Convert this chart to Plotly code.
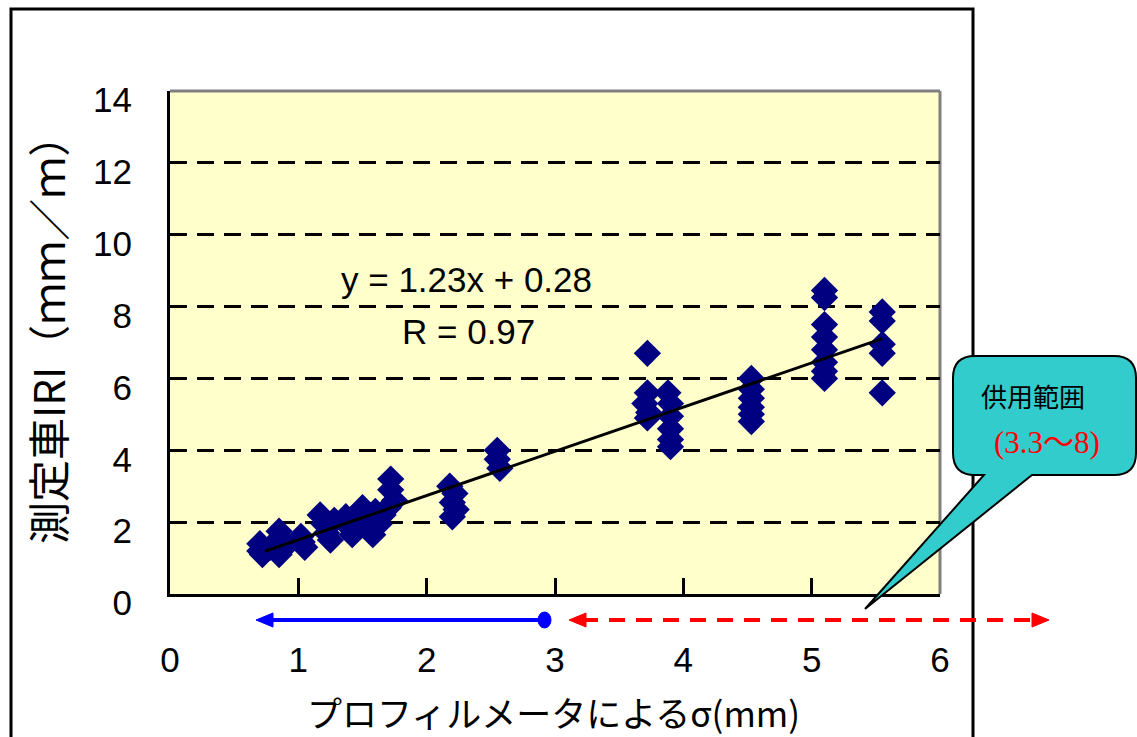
import plotly.graph_objects as go

# ---------------- data ----------------
sigma_x = [0.70, 0.70, 0.72, 0.78, 0.85, 0.87, 0.88, 0.85,
           1.02, 1.03, 1.05,
           1.17, 1.20, 1.22, 1.25, 1.28,
           1.37, 1.40, 1.42,
           1.50, 1.52, 1.55, 1.58, 1.60, 1.63, 1.66,
           1.72, 1.72, 1.75, 1.70,
           2.18, 2.22, 2.20, 2.23, 2.20,
           2.55, 2.55, 2.57,
           3.72, 3.72, 3.70, 3.73, 3.72,
           3.88, 3.90, 3.90, 3.90, 3.90, 3.90,
           4.53, 4.53, 4.53, 4.53, 4.53, 4.53,
           5.10, 5.10, 5.10, 5.10, 5.10, 5.10, 5.10, 5.10,
           5.55, 5.55, 5.55, 5.55, 5.55]
iri_y = [1.40, 1.20, 1.10, 1.30, 1.75, 1.50, 1.25, 1.10,
         1.60, 1.45, 1.30,
         2.20, 1.95, 1.70, 1.50, 2.05,
         2.15, 1.85, 1.65,
         2.40, 2.10, 1.80, 1.65, 2.30, 1.95, 2.20,
         3.20, 2.90, 2.60, 2.40,
         3.00, 2.80, 2.55, 2.35, 2.15,
         4.00, 3.75, 3.50,
         6.70, 5.60, 5.30, 5.05, 4.90,
         5.60, 5.30, 4.95, 4.60, 4.30, 4.10,
         6.00, 5.70, 5.45, 5.20, 5.00, 4.80,
         8.45, 8.25, 7.50, 7.15, 6.80, 6.45, 6.20, 6.00,
         7.85, 7.60, 6.95, 6.70, 5.60]

trend_x = [0.74, 5.55]
trend_y = [1.19, 7.11]

x_ticks = [0, 1, 2, 3, 4, 5, 6]
y_ticks = [0, 2, 4, 6, 8, 10, 12, 14]
grid_y = [2, 4, 6, 8, 10, 12]

eq_text = "y = 1.23x + 0.28"
r_text = "R = 0.97"
x_title = "プロフィルメータによるσ(mm)"
y_title = "測定車IRI（ｍｍ／ｍ）"
callout_title = "供用範囲"
callout_range = "(3.3〜8)"

# ---------------- layout helpers (pixel -> paper) ----------------
FIG_W, FIG_H = 1137, 737
L, R, T, B = 170, 940, 91, 594


def px(v):
    return (v - L) / (R - L)


def py(v):
    return (B - v) / (B - T)


NUM_FONT = "Liberation Sans, Arial, sans-serif"
JP_FONT = "Noto Sans CJK JP, sans-serif"

fig = go.Figure()
fig.add_trace(go.Scatter(
    x=sigma_x, y=iri_y, mode="markers",
    marker=dict(symbol="diamond", size=21, color="#000080", line=dict(width=0)),
    showlegend=False, hoverinfo="skip"))
fig.add_trace(go.Scatter(
    x=trend_x, y=trend_y, mode="lines", yaxis="y2",
    line=dict(color="black", width=3),
    showlegend=False, hoverinfo="skip"))

shapes = []
# gray top / right plot border
shapes.append(dict(type="line", xref="paper", yref="paper", x0=0, x1=1, y0=1, y1=1,
                   line=dict(color="#808080", width=3), layer="below"))
shapes.append(dict(type="line", xref="paper", yref="paper", x0=1, x1=1, y0=0, y1=1,
                   line=dict(color="#808080", width=3), layer="below"))
# outer frame
shapes.append(dict(type="rect", xref="paper", yref="paper",
                   x0=px(11), x1=px(973), y0=py(770), y1=py(9),
                   line=dict(color="black", width=3), fillcolor="rgba(0,0,0,0)", layer="above"))

# blue arrow
ay = 620
shapes.append(dict(type="line", xref="paper", yref="paper",
                   x0=px(266), x1=px(544), y0=py(ay), y1=py(ay),
                   line=dict(color="#0000FF", width=4), layer="above"))
shapes.append(dict(type="path", xref="paper", yref="paper",
                   path=f"M{px(256)},{py(ay)} L{px(273)},{py(ay-7)} L{px(273)},{py(ay+7)} Z",
                   fillcolor="#0000FF", line=dict(color="#0000FF", width=1), layer="above"))
shapes.append(dict(type="circle", xref="paper", yref="paper",
                   x0=px(538), x1=px(551), y0=py(ay + 8), y1=py(ay - 8),
                   fillcolor="#0000FF", line=dict(color="#0000FF", width=1), layer="above"))
# red dashed arrow
shapes.append(dict(type="line", xref="paper", yref="paper",
                   x0=px(582), x1=px(1036), y0=py(ay), y1=py(ay),
                   line=dict(color="#FF0000", width=4, dash="16px,11px"), layer="above"))
shapes.append(dict(type="path", xref="paper", yref="paper",
                   path=f"M{px(569)},{py(ay)} L{px(586)},{py(ay-7)} L{px(586)},{py(ay+7)} Z",
                   fillcolor="#FF0000", line=dict(color="#FF0000", width=1), layer="above"))
shapes.append(dict(type="path", xref="paper", yref="paper",
                   path=f"M{px(1049)},{py(ay)} L{px(1032)},{py(ay-7)} L{px(1032)},{py(ay+7)} Z",
                   fillcolor="#FF0000", line=dict(color="#FF0000", width=1), layer="above"))

# callout bubble
cl, cr, ct, cb, rr = 953, 1136, 356, 475, 22
pts = [
    ("M", (cl + rr, ct)), ("L", (cr - rr, ct)), ("Q", (cr, ct), (cr, ct + rr)),
    ("L", (cr, cb - rr)), ("Q", (cr, cb), (cr - rr, cb)),
    ("L", (1032, cb)), ("L", (865, 609)), ("L", (984, cb)),
    ("L", (cl + rr, cb)), ("Q", (cl, cb), (cl, cb - rr)),
    ("L", (cl, ct + rr)), ("Q", (cl, ct), (cl + rr, ct)),
]
path = ""
for item in pts:
    cmd = item[0]
    coords = " ".join(f"{px(a)},{py(b)}" for a, b in item[1:])
    path += f"{cmd}{coords} "
path += "Z"
shapes.append(dict(type="path", xref="paper", yref="paper", path=path,
                   fillcolor="#33CCCC", line=dict(color="black", width=2), layer="above"))

annotations = [
    dict(text=eq_text, x=px(466), y=py(279), xref="paper", yref="paper", showarrow=False,
         xanchor="center", yanchor="middle", font=dict(family=NUM_FONT, size=35, color="black")),
    dict(text=r_text, x=px(468), y=py(331), xref="paper", yref="paper", showarrow=False,
         xanchor="center", yanchor="middle", font=dict(family=NUM_FONT, size=35, color="black")),
    dict(text=y_title, x=px(46), y=py(330), xref="paper", yref="paper", showarrow=False,
         textangle=-90, xanchor="center", yanchor="middle",
         font=dict(family=JP_FONT, size=42, color="black")),
    dict(text=x_title, x=px(553), y=py(711), xref="paper", yref="paper", showarrow=False,
         xanchor="center", yanchor="middle", font=dict(family=JP_FONT, size=35, color="black")),
    dict(text=callout_title, x=px(1033), y=py(395), xref="paper", yref="paper", showarrow=False,
         xanchor="center", yanchor="middle", font=dict(family=JP_FONT, size=26, color="black")),
    dict(text=callout_range, x=px(1047), y=py(442), xref="paper", yref="paper", showarrow=False,
         xanchor="center", yanchor="middle",
         font=dict(family="Liberation Serif, Noto Sans CJK JP, serif", size=31, color="#FF0000")),
]

fig.update_layout(
    width=FIG_W, height=FIG_H,
    margin=dict(l=L, r=FIG_W - R, t=T, b=FIG_H - B, pad=0),
    paper_bgcolor="white", plot_bgcolor="#FFFFCC",
    showlegend=False,
    xaxis=dict(range=[0, 6], tickmode="array", tickvals=x_ticks,
               ticks="inside", ticklen=16, tickwidth=3, tickcolor="black",
               showline=True, linecolor="black", linewidth=3,
               showgrid=False, zeroline=False, ticklabelstandoff=33,
               tickfont=dict(family=NUM_FONT, size=35, color="black"), fixedrange=True),
    yaxis=dict(range=[0, 14], tickmode="array", tickvals=y_ticks,
               ticks="inside", ticklen=16, tickwidth=3, tickcolor="black",
               showline=True, linecolor="black", linewidth=3,
               showgrid=False, zeroline=False, ticklabelstandoff=28, ticklabelshift=9,
               tickfont=dict(family=NUM_FONT, size=35, color="black"), fixedrange=True),
    yaxis2=dict(range=[0, 14], overlaying="y", tickmode="array", tickvals=grid_y,
                showticklabels=False, ticks="", showline=False, zeroline=False,
                showgrid=True, gridcolor="black", gridwidth=3, griddash="17px,10px",
                fixedrange=True),
    shapes=shapes, annotations=annotations,
)

fig.write_html("out.html")
